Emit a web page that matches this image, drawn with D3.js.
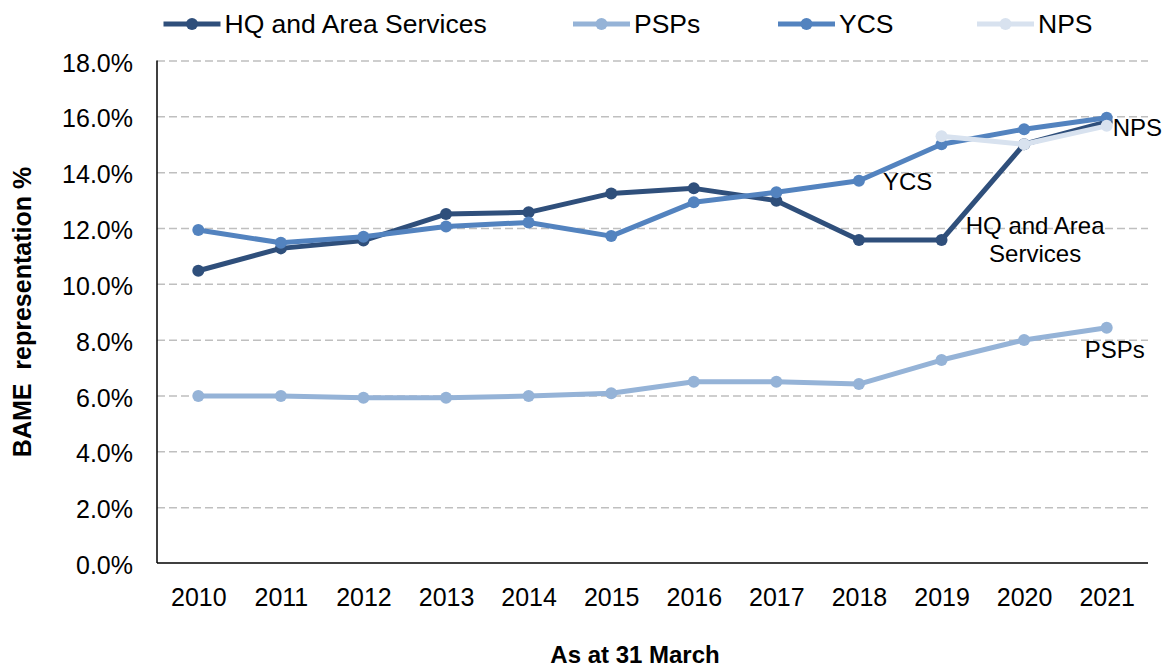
<!DOCTYPE html>
<html>
<head>
<meta charset="utf-8">
<script src="https://cdn.jsdelivr.net/npm/d3@7"></script>
<style>
  body { margin: 0; background: #fff; }
  text { font-family: "Liberation Sans", Arial, sans-serif; fill: #000; }
</style>
</head>
<body>
<script>
const years = ["2010", "2011", "2012", "2013", "2014", "2015", "2016", "2017", "2018", "2019", "2020", "2021"];

const hq = [10.47, 11.27, 11.55, 12.5, 12.56, 13.24, 13.42, 12.98, 11.57, 11.57, 15.0, 15.8];
const psps = [5.98, 5.98, 5.92, 5.92, 5.98, 6.08, 6.49, 6.49, 6.41, 7.27, 7.99, 8.43];
const ycs = [11.93, 11.47, 11.69, 12.05, 12.2, 11.71, 12.92, 13.28, 13.69, 15.0, 15.54, 15.95];
// NPS only reported from 2019
const nps = [null, null, null, null, null, null, null, null, null, 15.29, 15.0, 15.66];

const yTicks = [0, 2, 4, 6, 8, 10, 12, 14, 16, 18];

const seriesNames = ["HQ and Area Services", "PSPs", "YCS", "NPS"];
const seriesValues = [hq, psps, ycs, nps];
const colors = ["#2f4f7b", "#95b3d7", "#5383bf", "#d8e2ef"];

const w = 1162;
const h = 668;
const plotL = 157, plotR = 1148, plotT = 60.5, plotB = 563;

const svg = d3.select("body").append("svg").attr("width", w).attr("height", h);

//scales
const xScale = d3.scalePoint().domain(years).range([plotL, plotR]).padding(0.5);
const yScale = d3.scaleLinear().domain([0, 18]).range([plotB, plotT]);

//gridlines
svg
  .append("g")
  .attr("transform", "translate(" + plotL + ",0)")
  .call(d3.axisLeft(yScale).tickValues(yTicks.slice(1)).tickSize(-(plotR - plotL)).tickFormat(""))
  .call((g) => g.select(".domain").remove())
  .selectAll("line")
  .attr("stroke", "#bfbfbf")
  .attr("stroke-width", 1.5)
  .attr("stroke-dasharray", "8,4");

//y axis labels
const yAxis = svg
  .append("g")
  .attr("transform", "translate(" + plotL + ",0)")
  .call(d3.axisLeft(yScale).tickValues(yTicks).tickSize(0).tickPadding(24).tickFormat((d) => d.toFixed(1) + "%"));
yAxis.select(".domain").remove();
yAxis.selectAll("text").attr("font-size", 25).attr("font-family", "Liberation Sans, Arial, sans-serif").attr("dy", "0.42em");

//x axis labels
const xAxis = svg
  .append("g")
  .attr("transform", "translate(0," + plotB + ")")
  .call(d3.axisBottom(xScale).tickSize(0).tickPadding(25));
xAxis.select(".domain").remove();
xAxis.selectAll("text").attr("font-size", 25).attr("font-family", "Liberation Sans, Arial, sans-serif");

//axis lines
svg.append("line").attr("x1", plotL).attr("x2", plotL).attr("y1", plotT).attr("y2", plotB).attr("stroke", "#000").attr("stroke-width", 1.5);
svg.append("line").attr("x1", plotL).attr("x2", plotR).attr("y1", plotB).attr("y2", plotB).attr("stroke", "#000").attr("stroke-width", 1.5);

//lines
const line = d3
  .line()
  .defined((d) => d != null)
  .x((d, i) => xScale(years[i]))
  .y((d) => yScale(d));

seriesValues.forEach((vals, k) => {
  const g = svg.append("g");
  g.append("path")
    .attr("d", line(vals))
    .attr("fill", "none")
    .attr("stroke", colors[k])
    .attr("stroke-width", 5)
    .attr("stroke-linejoin", "round");
  g.selectAll("circle")
    .data(vals.map((v, i) => [years[i], v]).filter((d) => d[1] != null))
    .enter()
    .append("circle")
    .attr("cx", (d) => xScale(d[0]))
    .attr("cy", (d) => yScale(d[1]))
    .attr("r", 6)
    .attr("fill", colors[k]);
});

//data labels
const last = years.length - 1;
const lab = svg.append("g").attr("font-size", 24);
lab.append("text").attr("x", xScale("2021") + 6).attr("y", yScale(nps[last]) + 10).text("NPS");
lab.append("text").attr("x", xScale("2018") + 24).attr("y", yScale(ycs[8]) + 9).text("YCS");
lab.append("text").attr("x", xScale("2020") + 11).attr("y", yScale(hq[9]) - 6).attr("text-anchor", "middle").text("HQ and Area");
lab.append("text").attr("x", xScale("2020") + 11).attr("y", yScale(hq[9]) + 22).attr("text-anchor", "middle").text("Services");
lab.append("text").attr("x", xScale("2021") + 8).attr("y", yScale(psps[last]) + 30).attr("text-anchor", "middle").text("PSPs");

//legend
const legendX = [163.5, 573, 778, 977];
const leg = svg
  .selectAll(".leg")
  .data(seriesNames)
  .enter()
  .append("g")
  .attr("transform", (d, i) => "translate(" + legendX[i] + ",24)");
leg.append("line").attr("x1", 0).attr("x2", 57).attr("stroke", (d, i) => colors[i]).attr("stroke-width", 5);
leg.append("circle").attr("cx", 28.5).attr("r", 6).attr("fill", (d, i) => colors[i]);
leg.append("text").attr("x", 61).attr("y", 9).attr("font-size", 26.5).text((d) => d);

//axis titles
svg
  .append("text")
  .attr("transform", "translate(31,312) rotate(-90)")
  .attr("text-anchor", "middle")
  .attr("font-size", 25)
  .attr("font-weight", "bold")
  .style("white-space", "pre")
  .text("BAME  representation %");

svg
  .append("text")
  .attr("x", 635)
  .attr("y", 663)
  .attr("text-anchor", "middle")
  .attr("font-size", 24)
  .attr("font-weight", "bold")
  .text("As at 31 March");
</script>
</body>
</html>
